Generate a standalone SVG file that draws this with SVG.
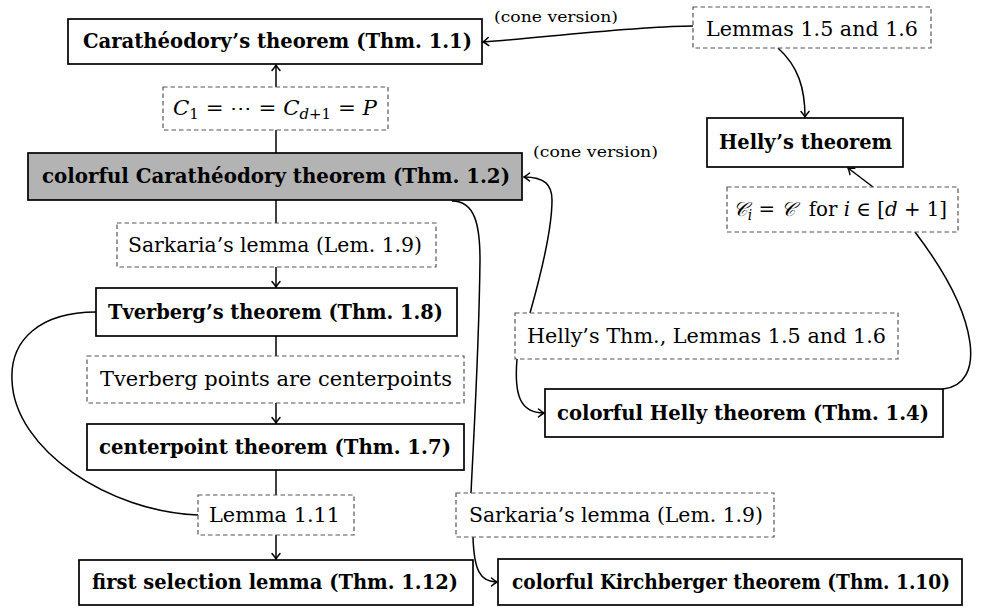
<svg xmlns="http://www.w3.org/2000/svg" width="989" height="608" viewBox="0 0 989 608">
<style>
.box{fill:#fff;stroke:#000;stroke-width:1.7}
.gray{fill:#b3b3b3}
.dash{fill:#fff;stroke:#555;stroke-width:1.2;stroke-dasharray:4.5 3}
.b{font-family:"DejaVu Serif","Liberation Serif",serif;font-weight:bold;font-size:20px;fill:#000}
.n{font-family:"DejaVu Serif","Liberation Serif",serif;font-size:20px;fill:#000}
.s{font-family:"DejaVu Serif","Liberation Serif",serif;font-size:14.5px;fill:#000}
.i{font-style:italic}
.edge{fill:none;stroke:#000;stroke-width:1.5}
</style>
<defs>
<marker id="arr" markerUnits="userSpaceOnUse" orient="auto" viewBox="-7 -6 8 12" refX="0" refY="0" markerWidth="8" markerHeight="12">
<path d="M-5.5,-4 Q-2,-1 0,0 Q-2,1 -5.5,4" fill="none" stroke="#000" stroke-width="1.5" stroke-linecap="round"/>
</marker>
</defs>
<g id="connectors">
<path class="edge" d="M276,153 L276,130"/>
<path class="edge" d="M276,87 L276,65" marker-end="url(#arr)"/>
<path class="edge" d="M276,200 L276,223"/>
<path class="edge" d="M276,267 L276,287" marker-end="url(#arr)"/>
<path class="edge" d="M276,336 L276,356"/>
<path class="edge" d="M276,403 L276,423" marker-end="url(#arr)"/>
<path class="edge" d="M276,470 L276,495"/>
<path class="edge" d="M276,535 L276,559" marker-end="url(#arr)"/>
<path class="edge" d="M96,312 C40,312 10,340 12,380 C14,450 110,512 198,515"/>
<path class="edge" d="M452,201 C475,201 480,225 480,260 C479,350 474,430 471,493"/>
<path class="edge" d="M473,537 C474,570 480,582 497,582" marker-end="url(#arr)"/>
<path class="edge" d="M530,313 C545,260 552,225 552,200 C552,185 545,177 524,177" marker-end="url(#arr)"/>
<path class="edge" d="M517,359 C514,395 520,413 544,413" marker-end="url(#arr)"/>
<path class="edge" d="M943,389 C985,385 982,320 915,232"/>
<path class="edge" d="M873,187 L848,168" marker-end="url(#arr)"/>
<path class="edge" d="M693,26 C640,26 560,36 483,42" marker-end="url(#arr)"/>
<path class="edge" d="M778,48 C798,66 805,88 805,117" marker-end="url(#arr)"/>
<text class="s" x="494" y="22" textLength="124" lengthAdjust="spacingAndGlyphs">(cone version)</text>
<text class="s" x="533" y="157" textLength="125" lengthAdjust="spacingAndGlyphs">(cone version)</text>
</g>
<g id="cara">
<rect class="box" x="68" y="19" width="414" height="45"/>
<text class="b" x="83" y="48" textLength="389" lengthAdjust="spacingAndGlyphs">Carathéodory’s theorem (Thm. 1.1)</text>
</g>
<g id="c1label">
<rect class="dash" x="163" y="87" width="225" height="43"/>
<text class="n" x="173" y="115" textLength="204" lengthAdjust="spacingAndGlyphs"><tspan class="i">C</tspan><tspan font-size="14" dy="4">1</tspan><tspan dy="-4"> = ⋯ = </tspan><tspan class="i">C</tspan><tspan font-size="14" dy="4"><tspan class="i">d</tspan>+1</tspan><tspan dy="-4"> = </tspan><tspan class="i">P</tspan></text>
</g>
<g id="colcara">
<rect class="box gray" x="28" y="153" width="494" height="47"/>
<text class="b" x="42" y="183" textLength="468" lengthAdjust="spacingAndGlyphs">colorful Carathéodory theorem (Thm. 1.2)</text>
</g>
<g id="sark1">
<rect class="dash" x="117" y="223" width="319" height="44"/>
<text class="n" x="128" y="252" textLength="294" lengthAdjust="spacingAndGlyphs">Sarkaria’s lemma (Lem. 1.9)</text>
</g>
<g id="tverberg">
<rect class="box" x="96" y="288" width="361" height="48"/>
<text class="b" x="108" y="319" textLength="335" lengthAdjust="spacingAndGlyphs">Tverberg’s theorem (Thm. 1.8)</text>
</g>
<g id="tvpts">
<rect class="dash" x="87" y="356" width="377" height="47"/>
<text class="n" x="100" y="386" textLength="352" lengthAdjust="spacingAndGlyphs">Tverberg points are centerpoints</text>
</g>
<g id="centerpoint">
<rect class="box" x="87" y="424" width="377" height="46"/>
<text class="b" x="99" y="454" textLength="352" lengthAdjust="spacingAndGlyphs">centerpoint theorem (Thm. 1.7)</text>
</g>
<g id="lem111">
<rect class="dash" x="198" y="495" width="156" height="40"/>
<text class="n" x="209" y="522" textLength="131" lengthAdjust="spacingAndGlyphs">Lemma 1.11</text>
</g>
<g id="firstsel">
<rect class="box" x="79" y="560" width="394" height="45"/>
<text class="b" x="92" y="589" textLength="366" lengthAdjust="spacingAndGlyphs">first selection lemma (Thm. 1.12)</text>
</g>
<g id="sark2">
<rect class="dash" x="456" y="493" width="318" height="44"/>
<text class="n" x="469" y="522" textLength="294" lengthAdjust="spacingAndGlyphs">Sarkaria’s lemma (Lem. 1.9)</text>
</g>
<g id="kirchberger">
<rect class="box" x="498" y="559" width="464" height="46"/>
<text class="b" x="512" y="589" textLength="438" lengthAdjust="spacingAndGlyphs">colorful Kirchberger theorem (Thm. 1.10)</text>
</g>
<g id="lem56">
<rect class="dash" x="693" y="7" width="238" height="41"/>
<text class="n" x="706" y="36" textLength="212" lengthAdjust="spacingAndGlyphs">Lemmas 1.5 and 1.6</text>
</g>
<g id="helly">
<rect class="box" x="707" y="118" width="196" height="49"/>
<text class="b" x="719" y="149" textLength="173" lengthAdjust="spacingAndGlyphs">Helly’s theorem</text>
</g>
<g id="cilabel">
<rect class="dash" x="727" y="187" width="231" height="45"/>
<text class="n" x="733" y="216" textLength="214" lengthAdjust="spacingAndGlyphs"><tspan class="i">𝒞</tspan><tspan class="i" font-size="14" dy="4">i</tspan><tspan dy="-4">&#160;=&#160;</tspan><tspan class="i">𝒞</tspan><tspan>&#160;&#160;for&#160;</tspan><tspan class="i">i</tspan><tspan>&#160;∈ [</tspan><tspan class="i">d</tspan><tspan>&#160;+ 1]</tspan></text>
</g>
<g id="hellythm">
<rect class="dash" x="515" y="313" width="383" height="46"/>
<text class="n" x="527" y="343" textLength="359" lengthAdjust="spacingAndGlyphs">Helly’s Thm., Lemmas 1.5 and 1.6</text>
</g>
<g id="colhelly">
<rect class="box" x="545" y="389" width="398" height="48"/>
<text class="b" x="557" y="420" textLength="372" lengthAdjust="spacingAndGlyphs">colorful Helly theorem (Thm. 1.4)</text>
</g>
</svg>
